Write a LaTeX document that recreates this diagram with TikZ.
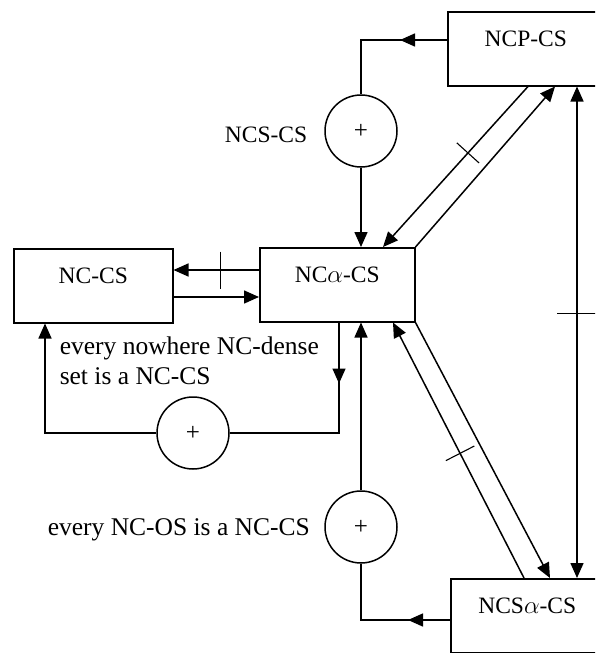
\documentclass[tikz,border=0pt]{standalone}
\usepackage{fontspec}
\setmainfont{Liberation Serif}
\usetikzlibrary{arrows.meta,decorations.markings,calc}
\begin{document}
\begin{tikzpicture}[x=1pt,y=-1pt,line width=1.5pt,
  arr/.style={-{Triangle[length=15pt,width=13pt]}},
  darr/.style={{Triangle[length=15pt,width=13pt]}-{Triangle[length=15pt,width=13pt]}},
  midarrow/.style={postaction={decorate,decoration={markings,
      mark=at position #1 with {\arrow{Triangle[length=15pt,width=13pt]}}}}},
  tickmark/.style 2 args={postaction={decorate,decoration={markings,
      mark=at position #1 with {\draw[arrows=-,line width=1.1pt] (0,-#2) -- (0,#2);}}}},
  box/.style={draw, rectangle, inner sep=0pt, anchor=north west,
      minimum height=74pt, text height=35pt, text depth=39pt,
      font=\fontsize{23.5}{28}\selectfont},
  sumc/.style={draw, circle, inner sep=0pt, minimum size=72pt,
      font=\fontsize{25}{30}\selectfont},
  txt/.style={inner sep=0pt, align=left, font=\fontsize{25.5}{30}\selectfont},
  lab/.style={inner sep=0pt, font=\fontsize{23.5}{28}\selectfont}
]
\useasboundingbox (0,0) rectangle (595,653);
\clip (0,0) rectangle (595,653);

% boxes
\node[box, minimum width=156pt] (ncp) at (447,11) {NCP-CS};
\node[box, minimum width=159pt] (nc) at (13,248) {NC-CS};
\node[box, minimum width=155pt] (nca) at (259,247) {NC$\alpha$-CS};
\node[box, minimum width=153pt] (ncsa) at (450,578) {NCS$\alpha$-CS};

% circles
\node[sumc] (c1) at (361,131) {+};
\node[sumc] (c2) at (193,433) {+};
\node[sumc] (c3) at (361,527) {+};

% labels
\node[lab, anchor=base] (l1) at (266,142) {NCS-CS};
\node[txt, anchor=base west] (t1) at (59,384) {every nowhere NC-dense\\set is a NC-CS};
\node[txt, anchor=base west] (t2) at (47,535) {every NC-OS is a NC-CS};

% NCP-CS -> circle -> NCalpha-CS
\draw[midarrow=47pt] ($(ncp.north west)+(0,29)$) -| (c1.north);
\draw[arr] (c1.south) -- (nca.north -| c1.south);

% NCalpha-CS <-> NC-CS
\coordinate (p3) at ($(nca.north west)+(0,23)$);
\draw[arr, tickmark={0.448}{18.5pt}] (p3) -- (p3 -| nc.east);
\coordinate (p4) at ($(nc.north east)+(0,49)$);
\draw[arr] (p4) -- (p4 -| nca.west);

% loop NCalpha-CS -> circle -> NC-CS
\draw[midarrow=61pt] ($(nca.south west)+(80,0)$) |- (c2.east);
\draw[arr] (c2.west) -| ($(nc.south west)+(32,0)$);

% NCSalpha-CS -> circle -> NCalpha-CS
\draw[midarrow=42pt] ($(ncsa.north west)+(0,42)$) -| (c3.south);
\draw[arr] (c3.north) -- (c3.north |- nca.south);

% diagonals NCP-CS / NCalpha-CS
\draw[arr, tickmark={0.414}{15pt}] ($(ncp.south west)+(81,0)$) -- ($(nca.north west)+(124,0)$);
\draw[arr] (nca.north east) -- ($(ncp.south west)+(108,0)$);

% diagonals NCSalpha-CS / NCalpha-CS
\draw[arr, tickmark={0.488}{16pt}] ($(ncsa.north west)+(74,0)$) -- ($(nca.south west)+(134,0)$);
\draw[arr] (nca.south east) -- ($(ncsa.north west)+(100,0)$);

% right vertical
\draw[darr, tickmark={0.462}{20pt}] ($(ncp.south west)+(130,0)$) -- ($(ncsa.north west)+(127,0)$);
\end{tikzpicture}
\end{document}
